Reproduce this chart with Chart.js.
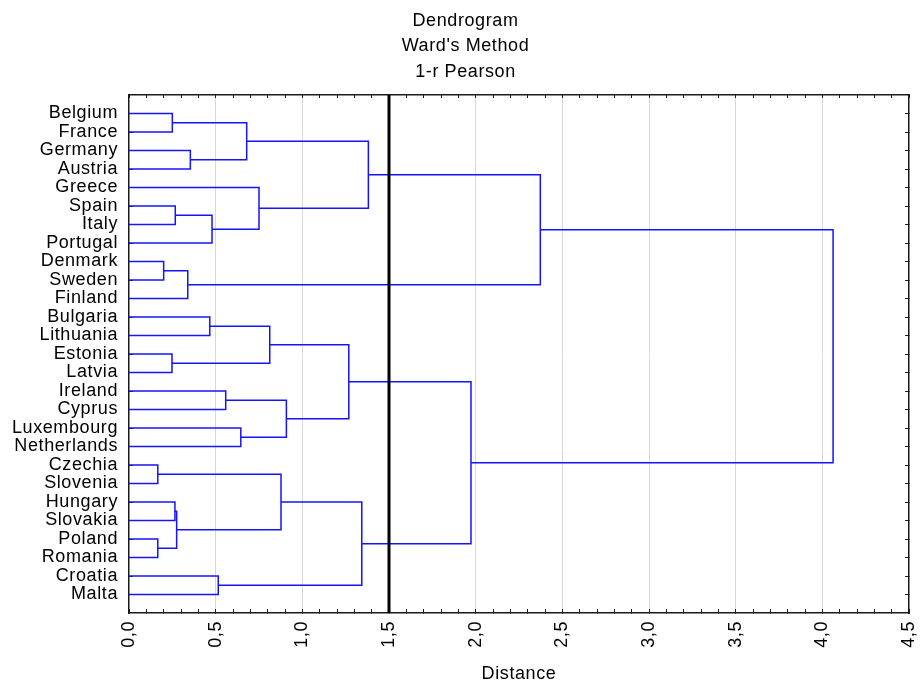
<!DOCTYPE html>
<html>
<head>
<meta charset="utf-8">
<script src="https://cdn.jsdelivr.net/npm/chart.js@4.4.1/dist/chart.umd.min.js"></script>
<style>
html, body { margin: 0; padding: 0; background: #ffffff; }
#wrap { width: 920px; height: 683px; position: relative; }
</style>
</head>
<body>
<div id="wrap"><canvas id="c"></canvas></div>
<script>
// ---------- data ----------
const titleLines = ["Dendrogram", "Ward's Method", "1-r Pearson"];
const axisTitle = "Distance";
const countries = ["Belgium", "France", "Germany", "Austria", "Greece", "Spain", "Italy", "Portugal",
  "Denmark", "Sweden", "Finland", "Bulgaria", "Lithuania", "Estonia", "Latvia", "Ireland", "Cyprus",
  "Luxembourg", "Netherlands", "Czechia", "Slovenia", "Hungary", "Slovakia", "Poland", "Romania",
  "Croatia", "Malta"];
// linkage: children ids (0..26 = leaves in display order, 27+ = clusters in merge order)
const linkLeft   = [19, 23, 8, 13, 0, 21, 5, 32, 29, 2, 11, 33, 25, 15, 17, 31, 4, 37, 27, 40, 44, 45, 42, 47, 49, 51];
const linkRight  = [20, 24, 9, 14, 1, 22, 6, 28, 10, 3, 12, 7, 26, 16, 18, 36, 38, 30, 34, 41, 46, 39, 43, 48, 35, 50];
const linkHeight = [0.166, 0.166, 0.200, 0.248, 0.250, 0.265, 0.267, 0.275, 0.339, 0.354, 0.466, 0.479, 0.515,
  0.558, 0.645, 0.679, 0.750, 0.812, 0.877, 0.908, 1.268, 1.343, 1.381, 1.973, 2.373, 4.062];
const cutDistance = 1.5;
const xTickLabels = ["0,0", "0,5", "1,0", "1,5", "2,0", "2,5", "3,0", "3,5", "4,0", "4,5"];
const xMin = 0, xMax = 4.5;

// ---------- build ----------
Chart.defaults.font.family = '"Liberation Sans", Arial, sans-serif';
Chart.defaults.color = '#000';

const blue = 'rgb(20,20,255)';
const frame = '#1a1a1a';
const nodePos = countries.map((_, i) => i);
const nodeH = countries.map(() => 0);
const datasets = [{
  data: [{ x: cutDistance, y: -1 }, { x: cutDistance, y: countries.length }],
  borderColor: '#000', borderWidth: 3, pointRadius: 0, showLine: true
}];
linkLeft.forEach((a, k) => {
  const b = linkRight[k], h = linkHeight[k];
  datasets.push({
    data: [{ x: nodeH[a], y: nodePos[a] }, { x: h, y: nodePos[a] }, { x: h, y: nodePos[b] }, { x: nodeH[b], y: nodePos[b] }],
    borderColor: blue, borderWidth: 1.5, pointRadius: 0, showLine: true
  });
  nodePos.push((nodePos[a] + nodePos[b]) / 2);
  nodeH.push(h);
});

const isMajor = v => Math.abs(v * 2 - Math.round(v * 2)) < 1e-6;
const isRow = v => Number.isInteger(v) && v >= 0 && v < countries.length;

const spacing = {
  id: 'spacing',
  beforeUpdate(chart) { chart.ctx.letterSpacing = '0.6px'; },
  beforeDraw(chart) { chart.ctx.letterSpacing = '0.6px'; }
};

new Chart(document.getElementById('c'), {
  type: 'scatter',
  data: { datasets },
  plugins: [spacing],
  options: {
    responsive: true,
    maintainAspectRatio: false,
    animation: false,
    layout: { padding: { left: 11, right: 0, top: 0, bottom: 0 } },
    plugins: {
      legend: { display: false },
      tooltip: { enabled: false },
      title: {
        display: true, text: titleLines, color: '#000',
        font: { size: 18, weight: 'normal', lineHeight: 25.5 / 18 },
        padding: { top: 8, bottom: 10.5 }
      }
    },
    scales: {
      x: {
        type: 'linear', position: 'bottom', min: xMin, max: xMax,
        ticks: {
          stepSize: 0.1, autoSkip: false, minRotation: 90, maxRotation: 90, padding: 12,
          font: { size: 18 }, color: '#000',
          callback: v => isMajor(v) ? xTickLabels[Math.round(v * 2)] : ''
        },
        grid: {
          color: c => (isMajor(c.tick.value) && c.tick.value > xMin && c.tick.value < xMax) ? '#d8d8d8' : 'rgba(0,0,0,0)',
          lineWidth: 1, tickLength: -4, tickColor: frame
        },
        border: { color: frame, width: 1.5 },
        title: { display: true, text: axisTitle, color: '#000', font: { size: 18, lineHeight: 1 }, padding: 0 },
        afterFit: s => { s.height = 70; s.paddingLeft = 0; s.paddingRight = 0; }
      },
      xTop: {
        type: 'linear', position: 'top', min: xMin, max: xMax,
        ticks: { display: false, stepSize: 0.1, autoSkip: false },
        grid: { drawOnChartArea: false, tickLength: -3, tickColor: frame },
        border: { color: frame, width: 1.5 },
        afterFit: s => { s.height = 0; s.paddingLeft = 0; s.paddingRight = 0; }
      },
      y: {
        type: 'linear', position: 'left', min: -1, max: countries.length, reverse: true,
        ticks: {
          stepSize: 1, autoSkip: false, padding: 15, font: { size: 18 }, color: '#000',
          callback: v => isRow(v) ? countries[v] : ''
        },
        grid: { drawOnChartArea: false, tickLength: -4, tickColor: c => isRow(c.tick.value) ? frame : 'rgba(0,0,0,0)' },
        border: { color: frame, width: 1.5 },
        afterFit: s => { s.width = 118; s.paddingTop = 0; s.paddingBottom = 0; }
      },
      yRight: {
        type: 'linear', position: 'right', min: -1, max: countries.length, reverse: true,
        ticks: { display: false, stepSize: 1, autoSkip: false },
        grid: { drawOnChartArea: false, tickLength: -4, tickColor: c => isRow(c.tick.value) ? frame : 'rgba(0,0,0,0)' },
        border: { color: frame, width: 1.5 },
        afterFit: s => { s.width = 11; s.paddingTop = 0; s.paddingBottom = 0; }
      }
    }
  }
});
</script>
</body>
</html>
